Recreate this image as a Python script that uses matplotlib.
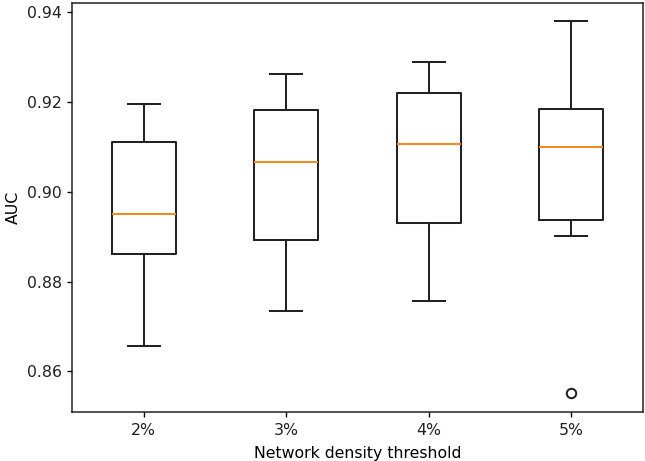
import matplotlib

matplotlib.use("Agg")
import matplotlib.pyplot as plt

# box statistics
thresholds = ["2%", "3%", "4%", "5%"]
whisker_low = [0.8656, 0.8735, 0.8757, 0.8901]
quartile_1 = [0.8862, 0.8893, 0.8931, 0.8936]
medians = [0.8951, 0.9067, 0.9106, 0.9099]
quartile_3 = [0.9110, 0.9182, 0.9219, 0.9183]
whisker_high = [0.9195, 0.9262, 0.9288, 0.9379]
outliers = [[], [], [], [0.8551]]

stats = [
    {
        "label": label,
        "whislo": lo,
        "q1": q1,
        "med": med,
        "q3": q3,
        "whishi": hi,
        "fliers": fl,
    }
    for label, lo, q1, med, q3, hi, fl in zip(
        thresholds, whisker_low, quartile_1, medians, quartile_3, whisker_high, outliers
    )
]

scale = 1.13
plt.rcParams.update(
    {
        "font.size": 10 * scale,
        "axes.linewidth": 1.1,
        "axes.edgecolor": "#222222",
        "xtick.major.width": 1.0,
        "ytick.major.width": 1.0,
        "xtick.major.size": 3.5 * scale,
        "ytick.major.size": 3.5 * scale,
        "text.color": "#222222",
        "xtick.labelcolor": "#222222",
        "ytick.labelcolor": "#222222",
    }
)

fig = plt.figure(figsize=(6.45, 4.61), dpi=100)
ax = fig.add_axes([0.1121, 0.1056, 0.8843, 0.8872])

lw = 1.45
dark = "#222222"
ax.bxp(
    stats,
    widths=0.45,
    boxprops={"linewidth": lw, "color": dark},
    whiskerprops={"linewidth": lw, "color": dark},
    capprops={"linewidth": lw, "color": dark},
    medianprops={"linewidth": lw, "color": "#F28A1E"},
    flierprops={"markersize": 6 * scale, "markeredgewidth": lw, "markeredgecolor": dark},
)
ax.set_xlim(0.5, 4.5)
ax.set_ylim(0.8509, 0.9419)
ax.set_yticks([0.86, 0.88, 0.90, 0.92, 0.94])
ax.set_xlabel("Network density threshold", labelpad=6)
ax.set_ylabel("AUC")

fig.savefig("out.png", dpi=100)
